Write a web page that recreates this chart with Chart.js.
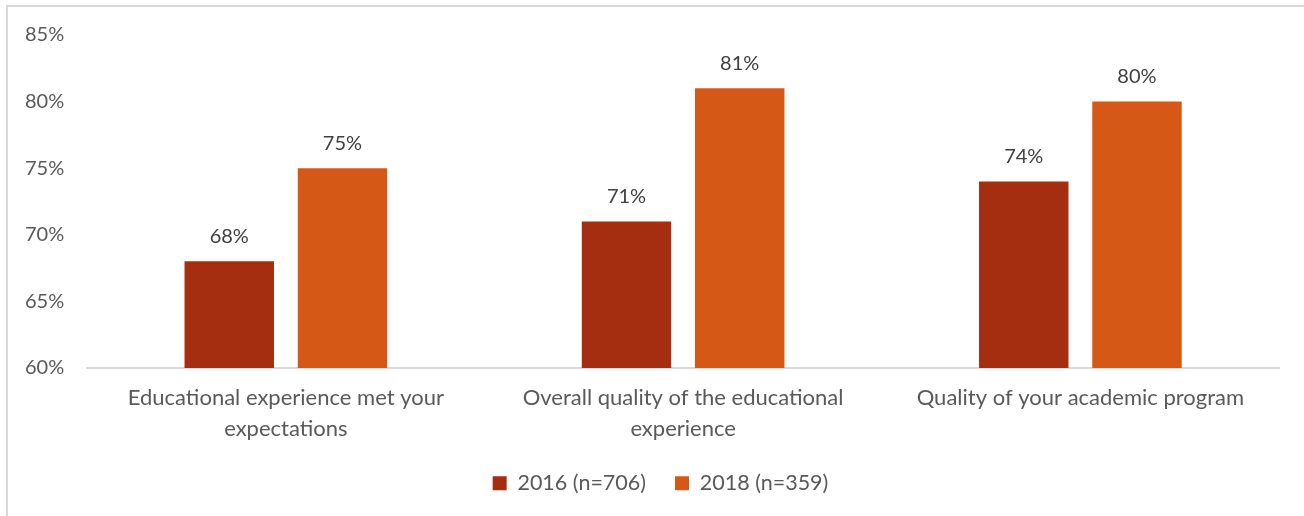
<!DOCTYPE html>
<html>
<head>
<meta charset="utf-8">
<script src="https://cdn.jsdelivr.net/npm/chart.js@4/dist/chart.umd.min.js"></script>
<style>
  html, body { margin: 0; padding: 0; background: #fff; }
  #frame { position: absolute; left: 6px; top: 5px; width: 1400px; height: 600px;
           border: 2px solid #d9d9d9; box-sizing: border-box; }
  #wrap { position: absolute; left: 0; top: 0; width: 1304px; height: 516px; }
</style>
</head>
<body>
<div id="frame"></div>
<div id="wrap"><canvas id="chart" width="1304" height="516"></canvas></div>
<script>
// Survey items (wrapped into lines for the category axis)
const categories = [
  ["Educational experience met your", "expectations"],
  ["Overall quality of the educational", "experience"],
  ["Quality of your academic program"]
];
const seriesNames = ["2016 (n=706)", "2018 (n=359)"];
const values2016 = [68, 71, 74];
const values2018 = [75, 81, 80];
const yTicks = [60, 65, 70, 75, 80, 85];

const FONT = "Lato, 'Open Sans', sans-serif";

// Writes each bar's value just above it
const valueLabels = {
  id: 'valueLabels',
  afterDatasetsDraw(chart) {
    const ctx = chart.ctx;
    ctx.save();
    ctx.font = "20px " + FONT;
    ctx.fillStyle = "#404040";
    ctx.textAlign = "center";
    ctx.textBaseline = "middle";
    chart.data.datasets.forEach((ds, i) => {
      chart.getDatasetMeta(i).data.forEach((bar, j) => {
        ctx.fillText(ds.data[j] + "%", bar.x, bar.y - 25);
      });
    });
    ctx.restore();
  }
};

// Nudges the legend row a little to the right of the canvas centre
const legendShift = {
  id: 'legendShift',
  afterLayout(chart) {
    if (chart.legend) { chart.legend.left += 20; chart.legend.right += 20; }
  }
};

new Chart(document.getElementById('chart'), {
  type: 'bar',
  data: {
    labels: categories,
    datasets: [
      { label: seriesNames[0], data: values2016, backgroundColor: '#A52D10' },
      { label: seriesNames[1], data: values2018, backgroundColor: '#D55817' }
    ]
  },
  options: {
    responsive: false,
    animation: false,
    layout: { padding: { left: 2, right: 25, top: 25, bottom: 12 } },
    datasets: { bar: { categoryPercentage: 0.57, barPercentage: 0.79 } },
    scales: {
      x: {
        afterFit(scale) { scale.height -= 16; },
        grid: { display: false, drawTicks: false },
        border: { display: true, color: '#d9d9d9', width: 2 },
        ticks: { color: '#595959', font: { family: FONT, size: 22, lineHeight: 1.4 }, padding: 15, maxRotation: 0, autoSkip: false }
      },
      y: {
        min: 60, max: 85,
        afterBuildTicks(axis) { axis.ticks = yTicks.map(v => ({ value: v })); },
        grid: { display: false, drawTicks: false },
        border: { display: false },
        ticks: { color: '#595959', font: { family: FONT, size: 20 }, padding: 23, callback: v => v + '%' }
      }
    },
    plugins: {
      legend: {
        position: 'bottom',
        labels: { color: '#595959', font: { family: FONT, size: 21.5 }, boxWidth: 14, boxHeight: 14, padding: 29 }
      },
      tooltip: { enabled: false }
    }
  },
  plugins: [valueLabels, legendShift]
});
</script>
</body>
</html>
